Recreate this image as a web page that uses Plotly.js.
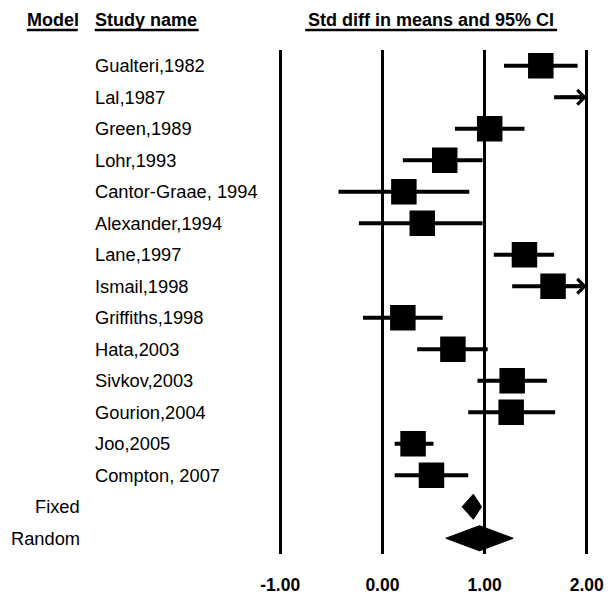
<!DOCTYPE html>
<html><head><meta charset="utf-8">
<script src="https://cdn.plot.ly/plotly-3.0.1.min.js"></script>
<style>html,body{margin:0;padding:0;background:#fff}</style>
</head><body>
<div id="chart" style="width:609px;height:593px"></div>
<script>
// ---- data ----
const studyNames = ['Gualteri,1982','Lal,1987','Green,1989','Lohr,1993','Cantor-Graae, 1994','Alexander,1994','Lane,1997','Ismail,1998','Griffiths,1998','Hata,2003','Sivkov,2003','Gourion,2004','Joo,2005','Compton, 2007'];
// point estimates (null = off the right edge of the scale)
const effect = [1.55, null, 1.05, 0.61, 0.21, 0.39, 1.39, 1.67, 0.20, 0.69, 1.27, 1.26, 0.30, 0.48];
const lower  = [1.19, 1.68, 0.71, 0.20, -0.43, -0.23, 1.09, 1.27, -0.19, 0.34, 0.93, 0.84, 0.12, 0.12];
// upper limits (null = beyond the scale, drawn as an arrow)
const upper  = [1.91, null, 1.39, 0.98, 0.85, 0.98, 1.68, null, 0.59, 1.03, 1.61, 1.69, 0.50, 0.84];
const modelNames = ['Fixed', 'Random'];
const pooledEffect = [0.89, 0.95];
const pooledLower  = [0.78, 0.62];
const pooledUpper  = [0.97, 1.28];
const tickValues = [-1, 0, 1, 2];
const tickLabels = ['-1.00', '0.00', '1.00', '2.00'];
const headers = ['Model', 'Study name', 'Std diff in means and 95% CI'];

// ---- layout geometry ----
const W = 609, H = 593;
const M = {l: 269.8, r: 12.1, t: 50, b: 39};
const xMin = -1, xMax = 2, xPad = 0.1;
const plotW = W - M.l - M.r, plotH = H - M.t - M.b;
const px2paperX = px => (px - M.l) / plotW;
const px2paperY = py => (H - M.b - py) / plotH;
const FONT = 'Liberation Sans, Arial, sans-serif';
const nRows = studyNames.length + modelNames.length;
const diamondHalf = 0.4;

// ---- traces ----
const ciX = [], ciY = [];
studyNames.forEach((_, i) => {
  ciX.push(lower[i], upper[i] == null ? xMax : upper[i], null);
  ciY.push(i, i, null);
});
const traces = [];
traces.push({type: 'scatter', mode: 'lines', x: ciX, y: ciY,
  line: {color: '#000', width: 4}, hoverinfo: 'skip', showlegend: false});
traces.push({type: 'scatter', mode: 'markers', x: effect, y: studyNames.map((_, i) => i),
  marker: {symbol: 'square', size: 25.5, color: '#000'}, showlegend: false});
modelNames.forEach((_, j) => {
  const yy = studyNames.length + j;
  traces.push({type: 'scatter', mode: 'lines', fill: 'toself', fillcolor: '#000',
    x: [pooledLower[j], pooledEffect[j], pooledUpper[j], pooledEffect[j], pooledLower[j]],
    y: [yy, yy - diamondHalf, yy, yy + diamondHalf, yy],
    line: {color: '#000', width: 1}, showlegend: false});
});

// ---- annotations ----
const ann = [];
studyNames.forEach((name, i) => {
  ann.push({xref: 'paper', yref: 'y', x: px2paperX(93), y: i, xanchor: 'left', yanchor: 'middle',
    text: name, showarrow: false, font: {family: FONT, size: 18.3, color: '#000'}});
  if (upper[i] == null) {
    ann.push({xref: 'x', yref: 'y', x: xMax, y: i, ax: -28, ay: 0, text: '',
      showarrow: true, arrowhead: 4, arrowsize: 0.8, arrowwidth: 3.5, arrowcolor: '#000', standoff: 0});
  }
});
modelNames.forEach((name, j) => {
  ann.push({xref: 'paper', yref: 'y', x: px2paperX(82), y: studyNames.length + j, xanchor: 'right', yanchor: 'middle',
    text: name, showarrow: false, font: {family: FONT, size: 18.3, color: '#000'}});
});
// header text positions and their underline extents (pixels)
const headerPos = [[25, 'left'], [92.5, 'left'], [431, 'center']];
const underlineSpan = [[26.5, 77.5], [94.5, 198.5], [305, 557]];
const shapes = [];
headers.forEach((h, k) => {
  ann.push({xref: 'paper', yref: 'paper', x: px2paperX(headerPos[k][0]), y: px2paperY(20.5),
    xanchor: headerPos[k][1], yanchor: 'middle', text: '<b>' + h + '</b>', showarrow: false,
    font: {family: FONT, size: 18, color: '#000'}});
  shapes.push({type: 'line', xref: 'paper', yref: 'paper',
    x0: px2paperX(underlineSpan[k][0]), x1: px2paperX(underlineSpan[k][1]),
    y0: px2paperY(30), y1: px2paperY(30), line: {color: '#000', width: 2.4}});
});

const layout = {
  width: W, height: H, margin: M, paper_bgcolor: '#fff', plot_bgcolor: '#fff',
  showlegend: false,
  xaxis: {range: [xMin - xPad, xMax + xPad], tickvals: tickValues, ticktext: tickLabels,
    showgrid: true, gridcolor: '#000', gridwidth: 3, zeroline: false, showline: false,
    ticks: '', ticklabelstandoff: 18,
    tickfont: {family: FONT, size: 17.5, color: '#000', weight: 'bold'}, fixedrange: true},
  yaxis: {range: [nRows - 0.5, -0.5], visible: false, fixedrange: true},
  annotations: ann,
  shapes: shapes
};
Plotly.newPlot('chart', traces, layout, {staticPlot: true, displayModeBar: false});
</script>
</body></html>
